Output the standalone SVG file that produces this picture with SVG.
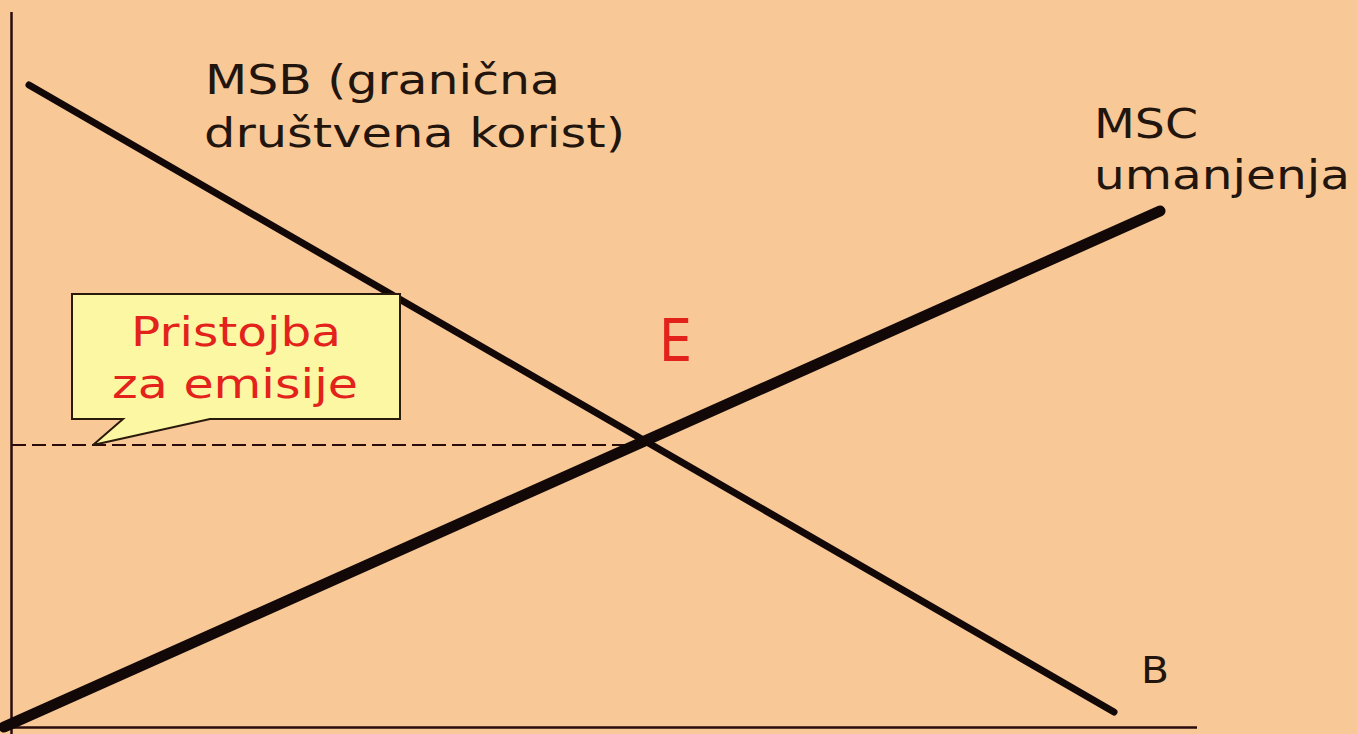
<svg xmlns="http://www.w3.org/2000/svg" width="1357" height="734" viewBox="0 0 1357 734">
<style>
.lbl{font-family:"DejaVu Sans","Verdana",sans-serif;fill:#22150d}
.red{font-family:"DejaVu Sans","Verdana",sans-serif;fill:#e3231b}
.axis{stroke:#2a0c0c;stroke-width:2.5;fill:none}
.curve{stroke:#120808;fill:none;stroke-linecap:round}
</style>
<rect x="0" y="0" width="1357" height="734" fill="#f9c897"/>
<g id="connectors">
<line class="axis" x1="11.5" y1="12" x2="11.5" y2="734"/>
<line class="axis" x1="10" y1="727.5" x2="1197" y2="727.5"/>
<line id="dashed" x1="12" y1="445" x2="642" y2="445" stroke="#2a0c0c" stroke-width="1.8" stroke-dasharray="14,6"/>
<line id="msb-line" class="curve" x1="29" y1="85" x2="1114" y2="712" stroke-width="7"/>
<line id="msc-line" class="curve" x1="4" y1="727" x2="1160" y2="211" stroke-width="11"/>
</g>
<g id="callout">
<path d="M72,294 H400 V419 H210 L93,445 L123,419 H72 Z" fill="#fcf7a2" stroke="#2a1a0c" stroke-width="2"/>
<text class="red" x="131" y="346" font-size="40" textLength="210" lengthAdjust="spacingAndGlyphs">Pristojba</text>
<text class="red" x="112" y="398" font-size="40" textLength="246" lengthAdjust="spacingAndGlyphs">za emisije</text>
</g>
<g id="msb-label">
<text class="lbl" x="205" y="94" font-size="40" textLength="355" lengthAdjust="spacingAndGlyphs">MSB (granična</text>
<text class="lbl" x="204" y="147" font-size="40" textLength="421" lengthAdjust="spacingAndGlyphs">društvena korist)</text>
</g>
<g id="msc-label">
<text class="lbl" x="1094" y="138" font-size="40" textLength="104" lengthAdjust="spacingAndGlyphs">MSC</text>
<text class="lbl" x="1094" y="189" font-size="40" textLength="256" lengthAdjust="spacingAndGlyphs">umanjenja</text>
</g>
<g id="e-label">
<text class="red" x="659" y="361" font-size="58" textLength="33" lengthAdjust="spacingAndGlyphs">E</text>
</g>
<g id="b-label">
<text class="lbl" x="1141" y="683" font-size="37" textLength="28" lengthAdjust="spacingAndGlyphs">B</text>
</g>
</svg>
